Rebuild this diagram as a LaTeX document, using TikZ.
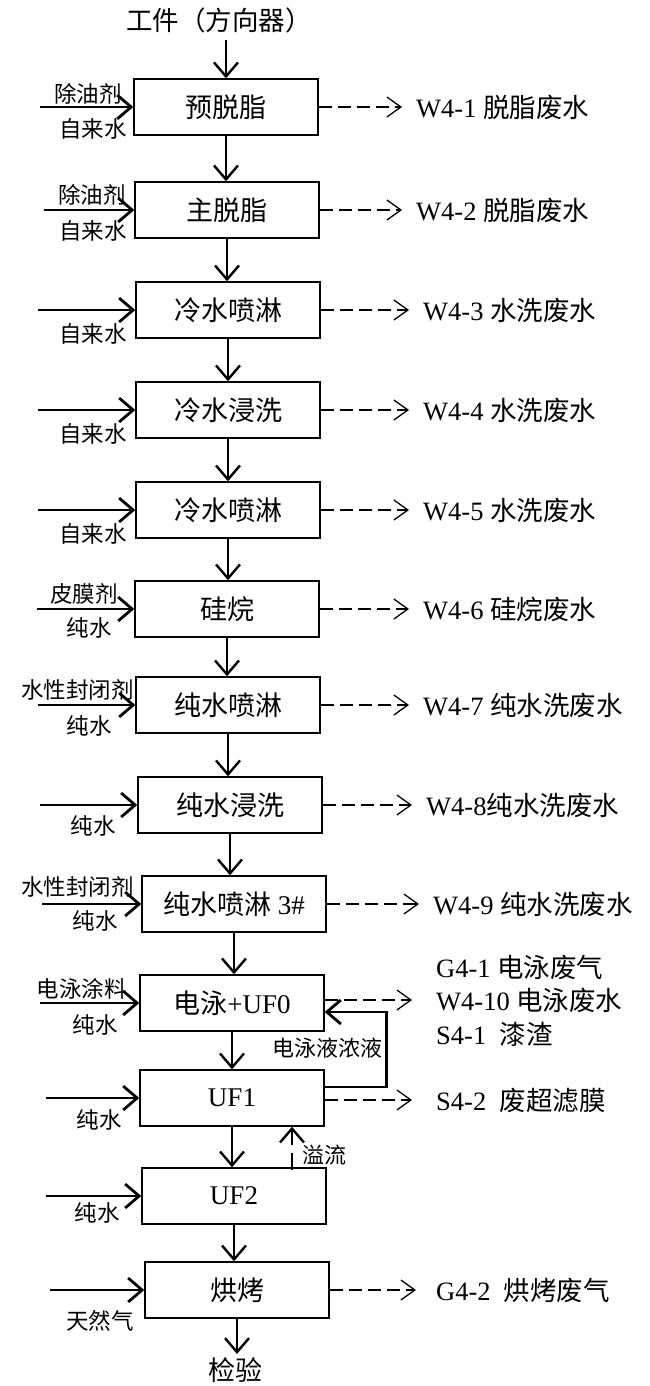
\documentclass[tikz,border=0pt]{standalone}
\usepackage{fontspec}
\setmainfont{Liberation Serif}
\newfontfamily\zhfont{Noto Sans CJK SC}
\newcommand{\zh}[1]{{\zhfont #1}}
\usetikzlibrary{arrows.meta,positioning}

\begin{document}
\begin{tikzpicture}[x=1pt,y=-1pt]
\tikzset{
  procbox/.style={draw,line width=1.4pt,minimum width=184pt,minimum height=56pt,inner sep=0pt,font=\fontsize{27}{30}\selectfont},
  flow/.style={-{Straight Barb[length=14pt,width=24pt]},line width=2.4pt},
  feed/.style={-{Straight Barb[length=14pt,width=24pt]},line width=2.8pt},
  waste/.style={-{Straight Barb[length=14pt,width=20pt]},line width=1.3pt,dash pattern=on 13pt off 6pt,shorten >=14pt},
  inlabel/.style={font=\fontsize{22.5}{24}\selectfont,inner sep=0pt,anchor=east},
  outlabel/.style={font=\fontsize{26.5}{28}\selectfont,inner sep=0pt,anchor=west},
  midlabel/.style={font=\fontsize{22}{24}\selectfont,inner sep=0pt}
}
\useasboundingbox (0,0) rectangle (649,1386);

% process boxes
\node[font=\fontsize{26.5}{28}\selectfont] (start) at (219,20) {\zh{工件（方向器）}};
\node[procbox] (p1) at (226,107) {\zh{预脱脂}};
\node[procbox] (p2) at (227,210) {\zh{主脱脂}};
\node[procbox] (p3) at (228,310) {\zh{冷水喷淋}};
\node[procbox] (p4) at (228,410) {\zh{冷水浸洗}};
\node[procbox] (p5) at (228,510) {\zh{冷水喷淋}};
\node[procbox] (p6) at (227,609) {\zh{硅烷}};
\node[procbox] (p7) at (228,705) {\zh{纯水喷淋}};
\node[procbox] (p8) at (230,805) {\zh{纯水浸洗}};
\node[procbox] (p9) at (234,904) {\zh{纯水喷淋} 3\#};
\node[procbox] (p10) at (232,1003) {\zh{电泳}+UF0};
\node[procbox] (p11) at (232,1098) {UF1};
\node[procbox] (p12) at (234,1196) {UF2};
\node[procbox] (p13) at (237,1290) {\zh{烘烤}};
\node[font=\fontsize{27}{30}\selectfont] (end) at (235,1370) {\zh{检验}};

% main flow
\draw[flow,shorten <=4pt] (p1.north |- start.south) -- (p1.north);
\draw[flow] (p1.south) -- (p1.south |- p2.north);
\draw[flow] (p2.south) -- (p2.south |- p3.north);
\draw[flow] (p3.south) -- (p3.south |- p4.north);
\draw[flow] (p4.south) -- (p4.south |- p5.north);
\draw[flow] (p5.south) -- (p5.south |- p6.north);
\draw[flow] (p6.south) -- (p6.south |- p7.north);
\draw[flow] (p7.south) -- (p7.south |- p8.north);
\draw[flow] (p8.south) -- (p8.south |- p9.north);
\draw[flow] (p9.south) -- (p9.south |- p10.north);
\draw[flow] (p10.south) -- (p10.south |- p11.north);
\draw[flow] (p11.south) -- (p11.south |- p12.north);
\draw[flow] (p12.south) -- (p12.south |- p13.north);
\draw[flow] (p13.south) -- (p13.south |- end.north);

% inputs
\coordinate (s1) at (40,107);
\coordinate (s2) at (44,210);
\coordinate (s3) at (38,310);
\coordinate (s4) at (38,410);
\coordinate (s5) at (38,510);
\coordinate (s6) at (37,609);
\coordinate (s7) at (38,705);
\coordinate (s8) at (40,805);
\coordinate (s9) at (42,904);
\coordinate (s10) at (40,1003);
\coordinate (s11) at (46,1098);
\coordinate (s12) at (46,1196);
\coordinate (s13) at (50,1290);
\draw[feed] (s1) -- (p1.west);
\draw[feed] (s2) -- (p2.west);
\draw[feed] (s3) -- (p3.west);
\draw[feed] (s4) -- (p4.west);
\draw[feed] (s5) -- (p5.west);
\draw[feed] (s6) -- (p6.west);
\draw[feed] (s7) -- (p7.west);
\draw[feed] (s8) -- (p8.west);
\draw[feed] (s9) -- (p9.west);
\draw[feed] (s10) -- (p10.west);
\draw[feed] (s11) -- (p11.west);
\draw[feed] (s12) -- (p12.west);
\draw[feed] (s13) -- (p13.west);

\node[inlabel] (a1) at (122,94) {\zh{除油剂}};
\node[inlabel] (b1) at (127,129) {\zh{自来水}};
\node[inlabel] (a2) at (126,195) {\zh{除油剂}};
\node[inlabel] (b2) at (127,231) {\zh{自来水}};
\node[inlabel] (b3) at (127,334) {\zh{自来水}};
\node[inlabel] (b4) at (127,434) {\zh{自来水}};
\node[inlabel] (b5) at (127,534) {\zh{自来水}};
\node[inlabel] (a6) at (118,594) {\zh{皮膜剂}};
\node[inlabel] (b6) at (112,628) {\zh{纯水}};
\node[inlabel] (a7) at (134,690) {\zh{水性封闭剂}};
\node[inlabel] (b7) at (112,726) {\zh{纯水}};
\node[inlabel] (b8) at (116,826) {\zh{纯水}};
\node[inlabel] (a9) at (134,887) {\zh{水性封闭剂}};
\node[inlabel] (b9) at (118,921) {\zh{纯水}};
\node[inlabel] (a10) at (127,989) {\zh{电泳涂料}};
\node[inlabel] (b10) at (118,1025) {\zh{纯水}};
\node[inlabel] (b11) at (122,1120) {\zh{纯水}};
\node[inlabel] (b12) at (120,1213) {\zh{纯水}};
\node[inlabel] (b13) at (134,1321) {\zh{天然气}};

% waste streams
\node[outlabel] (w1) at (416,107) {W4-1 \zh{脱脂废水}};
\node[outlabel] (w2) at (416,210) {W4-2 \zh{脱脂废水}};
\node[outlabel] (w3) at (423,310) {W4-3 \zh{水洗废水}};
\node[outlabel] (w4) at (423,410) {W4-4 \zh{水洗废水}};
\node[outlabel] (w5) at (423,510) {W4-5 \zh{水洗废水}};
\node[outlabel] (w6) at (423,609) {W4-6 \zh{硅烷废水}};
\node[outlabel] (w7) at (423,705) {W4-7 \zh{纯水洗废水}};
\node[outlabel] (w8) at (426,805) {W4-8\zh{纯水洗废水}};
\node[outlabel] (w9) at (433,904) {W4-9 \zh{纯水洗废水}};
\node[outlabel] (g41) at (436,967) {G4-1 \zh{电泳废气}};
\node[outlabel] (w10) at (436,1000) {W4-10 \zh{电泳废水}};
\node[outlabel] (s41) at (436,1034) {S4-1\ \ \zh{漆渣}};
\node[outlabel] (s42) at (436,1100) {S4-2\ \ \zh{废超滤膜}};
\node[outlabel] (g42) at (436,1290) {G4-2\ \ \zh{烘烤废气}};
\draw[waste] (p1.east |- w1.west) -- (w1.west);
\draw[waste] (p2.east |- w2.west) -- (w2.west);
\draw[waste] (p3.east |- w3.west) -- (w3.west);
\draw[waste] (p4.east |- w4.west) -- (w4.west);
\draw[waste] (p5.east |- w5.west) -- (w5.west);
\draw[waste] (p6.east |- w6.west) -- (w6.west);
\draw[waste] (p7.east |- w7.west) -- (w7.west);
\draw[waste] (p8.east |- w8.west) -- (w8.west);
\draw[waste] (p9.east |- w9.west) -- (w9.west);
\draw[waste,shorten >=24pt] (p10.east |- w10.west) -- (w10.west);
\draw[waste,shorten >=24pt] (p11.east |- s42.west) -- (s42.west);
\draw[waste,shorten >=20pt] (p13.east |- g42.west) -- (g42.west);

% recycle and overflow
\draw[feed] ([yshift=11pt]p11.east) -- ++(62,0) |- ([yshift=-9pt]p10.east);
\node[midlabel] (conc) at (327,1048) {\zh{电泳液浓液}};
\coordinate (ovf) at (292,1170);
\draw[flow,dash pattern=on 17pt off 8pt] (ovf) -- (ovf |- p11.south);
\node[midlabel,anchor=west] (ovl) at (302,1155) {\zh{溢流}};
\end{tikzpicture}
\end{document}
